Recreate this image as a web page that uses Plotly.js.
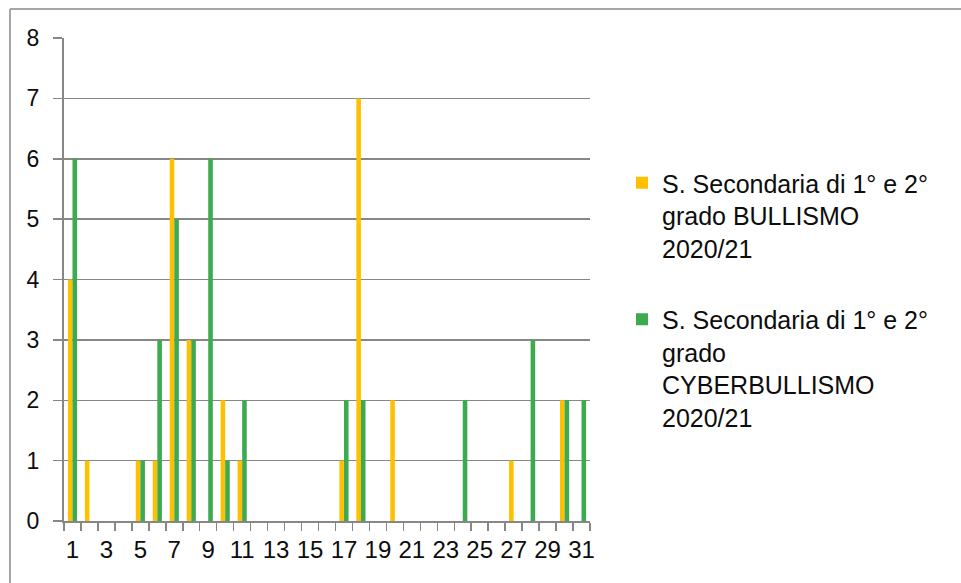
<!DOCTYPE html>
<html>
<head>
<meta charset="utf-8">
<script src="https://cdn.plot.ly/plotly-3.0.1.min.js"></script>
<style>
  html, body { margin: 0; padding: 0; background: #ffffff; }
  #chart { width: 961px; height: 583px; }
</style>
</head>
<body>
<div id="chart"></div>
<script>
// Categories 1..31
const categories = [1,2,3,4,5,6,7,8,9,10,11,12,13,14,15,16,17,18,19,20,21,22,23,24,25,26,27,28,29,30,31];
const bullismo =   [4,1,0,0,1,1,6,3,0,2,1,0,0,0,0,0,1,7,0,2,0,0,0,0,0,0,1,0,0,2,0];
const cyber =      [6,0,0,0,1,3,5,3,6,1,2,0,0,0,0,0,2,2,0,0,0,0,0,2,0,0,0,3,0,2,2];
const xTickLabels = [1,3,5,7,9,11,13,15,17,19,21,23,25,27,29,31];
const seriesNames = [
  "S. Secondaria di 1° e 2°<br>grado BULLISMO<br>2020/21",
  "S. Secondaria di 1° e 2°<br>grado<br>CYBERBULLISMO<br>2020/21"
];

const W = 961, H = 583;
const L = 64, R = 590, T = 38, B = 521;
const pw = R - L, ph = B - T;
const px = v => (v - L) / pw;
const py = v => (B - v) / ph;

const gridCol = '#878787';
const font = 'Liberation Sans, Arial, sans-serif';

const traces = [
  { type: 'bar', x: categories, y: bullismo, name: seriesNames[0],
    marker: { color: '#FFC000', line: { width: 0 } }, legendgroup: 'a', hoverinfo: 'x+y' },
  { type: 'bar', x: categories, y: cyber, name: seriesNames[1],
    marker: { color: '#3DAA50', line: { width: 0 } }, legendgroup: 'b', hoverinfo: 'x+y' }
];

const layout = {
  width: W, height: H,
  margin: { l: L, r: W - R, t: T, b: H - B, pad: 0 },
  paper_bgcolor: '#ffffff', plot_bgcolor: '#ffffff',
  barmode: 'group', bargap: 0.46, bargroupgap: 0,
  font: { family: font, color: '#000000' },
  xaxis: {
    type: 'linear', range: [0.5, 31.5], fixedrange: true,
    tickmode: 'array', tickvals: xTickLabels, ticktext: xTickLabels.map(String),
    ticks: '', showgrid: false, zeroline: false,
    showline: true, linecolor: gridCol, linewidth: 2,
    tickfont: { size: 24, family: font, color: '#0d0d0d' },
    ticklabelstandoff: 6,
    minor: { tickmode: 'linear', tick0: 0.5, dtick: 1, ticks: 'outside',
             ticklen: 8, tickwidth: 1.5, tickcolor: gridCol, showgrid: false }
  },
  yaxis: {
    range: [0, 8], dtick: 1, tick0: 0, fixedrange: true,
    ticks: 'outside', ticklen: 9, tickwidth: 1.5, tickcolor: gridCol,
    showgrid: true, gridcolor: gridCol, gridwidth: 1.5,
    zeroline: false, showline: true, linecolor: gridCol, linewidth: 2,
    tickfont: { size: 23, family: font, color: '#0d0d0d' },
    ticklabelstandoff: 9
  },
  showlegend: true,
  legend: {
    x: px(622), y: py(160), xanchor: 'left', yanchor: 'top',
    font: { size: 25, family: font, color: '#0d0d0d' },
    tracegroupgap: 36, valign: 'top',
    bgcolor: 'rgba(0,0,0,0)', borderwidth: 0, itemclick: false
  },
  shapes: [
    { type: 'line', xref: 'paper', yref: 'paper', x0: px(10), x1: px(10), y0: py(9), y1: py(590),
      line: { color: '#a6a6a6', width: 2 } },
    { type: 'line', xref: 'paper', yref: 'paper', x0: px(10), x1: px(970), y0: py(9), y1: py(9),
      line: { color: '#a6a6a6', width: 2 } }
  ]
};

Plotly.newPlot('chart', traces, layout, { displayModeBar: false, staticPlot: true });
</script>
</body>
</html>
